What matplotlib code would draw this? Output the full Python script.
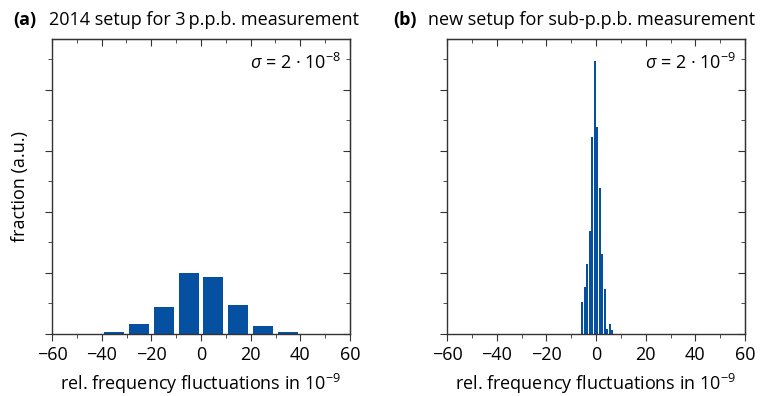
import matplotlib
matplotlib.use("Agg")
import matplotlib.pyplot as plt
from matplotlib.ticker import MultipleLocator, NullFormatter

plt.rcParams['font.family'] = ['Open Sans', 'DejaVu Sans']
plt.rcParams['mathtext.fontset'] = 'custom'
plt.rcParams['mathtext.rm'] = 'Open Sans'
plt.rcParams['mathtext.it'] = 'Open Sans:italic'

# panel (a): 2014 setup, bins of 10e-9
a_centers = [-35, -25, -15, -5, 5, 15, 25, 35]
a_heights = [0.08, 0.33, 0.89, 2.0, 1.87, 0.95, 0.26, 0.08]

# panel (b): new setup, bins of 1e-9
b_centers = [-5.5, -4.5, -3.5, -2.5, -1.5, -0.5, 0.5, 1.5, 2.5, 3.5, 4.5, 5.5, 6.5]
b_heights = [1.05, 1.54, 2.30, 3.38, 6.46, 8.95, 6.79, 4.79, 2.62, 1.48, 0.16, 0.33, 0.13]

titles = ["2014 setup for 3\u2009p.p.b. measurement", "new setup for sub-p.p.b. measurement"]
tags = ["(a)", "(b)"]
sigmas = ["$\\sigma$ = 2 \u00b7 10$^{-8}$", "$\\sigma$ = 2 \u00b7 10$^{-9}$"]
xlabel = "rel. frequency fluctuations in 10$^{-9}$"
blue = "#0550a0"

fig = plt.figure(figsize=(7.71, 3.96), dpi=100)
W, H = 771, 396
axes = [fig.add_axes([52/W, 62/H, 298/W, 295/H]),
        fig.add_axes([447/W, 62/H, 298/W, 295/H])]

axes[0].bar(a_centers, a_heights, width=8, color=blue)
axes[1].bar(b_centers, b_heights, width=0.85, color=blue)

for i, ax in enumerate(axes):
    ax.set_xlim(-60, 60)
    ax.set_ylim(0, 9.67)
    ax.xaxis.set_major_locator(MultipleLocator(20))
    ax.xaxis.set_minor_locator(MultipleLocator(10))
    ax.yaxis.set_major_locator(MultipleLocator(2))
    ax.yaxis.set_minor_locator(MultipleLocator(1))
    ax.yaxis.set_major_formatter(NullFormatter())
    for s in ax.spines.values():
        s.set_color("#333333")
        s.set_linewidth(1.0)
    ax.tick_params(which='both', direction='out', color="#333333", labelsize=13)
    ax.tick_params(which='major', length=5)
    ax.tick_params(which='minor', length=3)
    # top/right ticks point into the plot
    top = ax.secondary_xaxis('top')
    top.xaxis.set_major_locator(MultipleLocator(20))
    top.xaxis.set_minor_locator(MultipleLocator(10))
    top.tick_params(which='both', direction='in', labeltop=False, color="#333333")
    top.tick_params(which='major', length=5)
    top.tick_params(which='minor', length=3)
    right = ax.secondary_yaxis('right')
    right.yaxis.set_major_locator(MultipleLocator(2))
    right.yaxis.set_minor_locator(MultipleLocator(1))
    right.tick_params(which='both', direction='in', labelright=False, color="#333333")
    right.tick_params(which='major', length=5)
    right.tick_params(which='minor', length=3)
    ax.set_xlabel(xlabel, fontsize=13, labelpad=6)
    ax.text(0.97, 0.92, sigmas[i], transform=ax.transAxes, ha='right', va='center', fontsize=13)

axes[0].set_ylabel("fraction (a.u.)", fontsize=13, labelpad=8)

fig.text(13/W, 1 - 20/H, tags[0], fontsize=13, fontweight='bold', va='center')
fig.text(49/W, 1 - 20/H, titles[0], fontsize=13, va='center')
fig.text(393/W, 1 - 20/H, tags[1], fontsize=13, fontweight='bold', va='center')
fig.text(428/W, 1 - 20/H, titles[1], fontsize=13, va='center')

fig.savefig("out.png", dpi=100)
